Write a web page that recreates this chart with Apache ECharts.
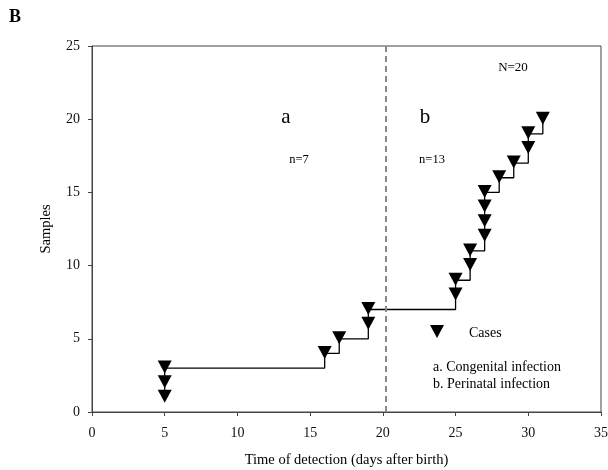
<!DOCTYPE html>
<html><head><meta charset="utf-8">
<script src="https://cdn.jsdelivr.net/npm/echarts@6/dist/echarts.min.js"></script>
<style>html,body{margin:0;padding:0;background:#fff}#c{width:608px;height:470px}</style>
</head><body><div id="c"></div>
<script>
// Data
const detectionDays = [5, 5, 5, 16, 17, 19, 19, 25, 25, 26, 26, 27, 27, 27, 27, 28, 29, 30, 30, 31];
const sampleCounts  = [1, 2, 3, 4, 5, 6, 7, 8, 9, 10, 11, 12, 13, 14, 15, 16, 17, 18, 19, 20];
const xTicks = [0, 5, 10, 15, 20, 25, 30, 35];
const yTicks = [0, 5, 10, 15, 20, 25];
const dividerDay = 20.2;

const points = detectionDays.map((d, i) => [d, sampleCounts[i]]);
const serif = '"Liberation Serif", "Times New Roman", serif';
const chart = echarts.init(document.getElementById('c'));
chart.setOption({
  animation: false,
  grid: {left: 92, right: 7, top: 46, bottom: 58, outerBoundsMode: 'none', containLabel: false,
         show: true, borderColor: '#444', borderWidth: 1, backgroundColor: 'transparent'},
  xAxis: {
    type: 'value', min: xTicks[0], max: xTicks[xTicks.length - 1], interval: 5,
    name: 'Time of detection (days after birth)', nameLocation: 'middle', nameGap: 41,
    nameTextStyle: {fontFamily: serif, fontSize: 14.5, color: '#000'},
    axisLine: {show: true, onZero: false, lineStyle: {color: '#444', width: 1}},
    axisTick: {show: true, length: 4, lineStyle: {color: '#444'}},
    axisLabel: {fontFamily: serif, fontSize: 14, color: '#111', margin: 14},
    splitLine: {show: false}
  },
  yAxis: {
    type: 'value', min: yTicks[0], max: yTicks[yTicks.length - 1], interval: 5,
    name: 'Samples', nameLocation: 'middle', nameGap: 38, nameRotate: 90,
    nameTextStyle: {fontFamily: serif, fontSize: 14.5, color: '#000'},
    axisLine: {show: true, onZero: false, lineStyle: {color: '#444', width: 1}},
    axisTick: {show: true, length: 4, lineStyle: {color: '#444'}},
    axisLabel: {fontFamily: serif, fontSize: 14, color: '#111', margin: 12},
    splitLine: {show: false}
  },
  series: [
    {
      type: 'line', data: points, step: 'end', symbol: 'none',
      lineStyle: {color: '#000', width: 1.3}, z: 2,
      markLine: {
        silent: true, symbol: 'none', label: {show: false},
        lineStyle: {type: [6, 4], color: '#888', width: 2},
        data: [{xAxis: dividerDay}]
      }
    },
    {
      type: 'scatter', data: points, symbol: 'triangle', symbolRotate: 180,
      symbolSize: [14, 13], symbolOffset: [0, -1],
      itemStyle: {color: '#000', opacity: 1}, z: 3
    }
  ],
  graphic: [
    {type: 'text', left: 9, top: 8, style: {text: 'B', font: 'bold 18px ' + serif, fill: '#000'}},
    {type: 'text', x: 286, y: 117, style: {text: 'a', font: '21px ' + serif, fill: '#000', align: 'center', verticalAlign: 'middle'}},
    {type: 'text', x: 425, y: 117, style: {text: 'b', font: '21px ' + serif, fill: '#000', align: 'center', verticalAlign: 'middle'}},
    {type: 'text', x: 299, y: 160, style: {text: 'n=7', font: '12.5px ' + serif, fill: '#000', align: 'center', verticalAlign: 'middle'}},
    {type: 'text', x: 432, y: 160, style: {text: 'n=13', font: '12.5px ' + serif, fill: '#000', align: 'center', verticalAlign: 'middle'}},
    {type: 'text', x: 513, y: 68, style: {text: 'N=20', font: '13px ' + serif, fill: '#000', align: 'center', verticalAlign: 'middle'}},
    {type: 'polygon', shape: {points: [[430, 325], [444, 325], [437, 338]]}, style: {fill: '#000'}},
    {type: 'text', x: 469, y: 333, style: {text: 'Cases', font: '14px ' + serif, fill: '#000', verticalAlign: 'middle'}},
    {type: 'text', x: 433, y: 367, style: {text: 'a. Congenital infection', font: '14px ' + serif, fill: '#000', verticalAlign: 'middle'}},
    {type: 'text', x: 433, y: 384, style: {text: 'b. Perinatal infection', font: '14px ' + serif, fill: '#000', verticalAlign: 'middle'}}
  ]
});
</script></body></html>
